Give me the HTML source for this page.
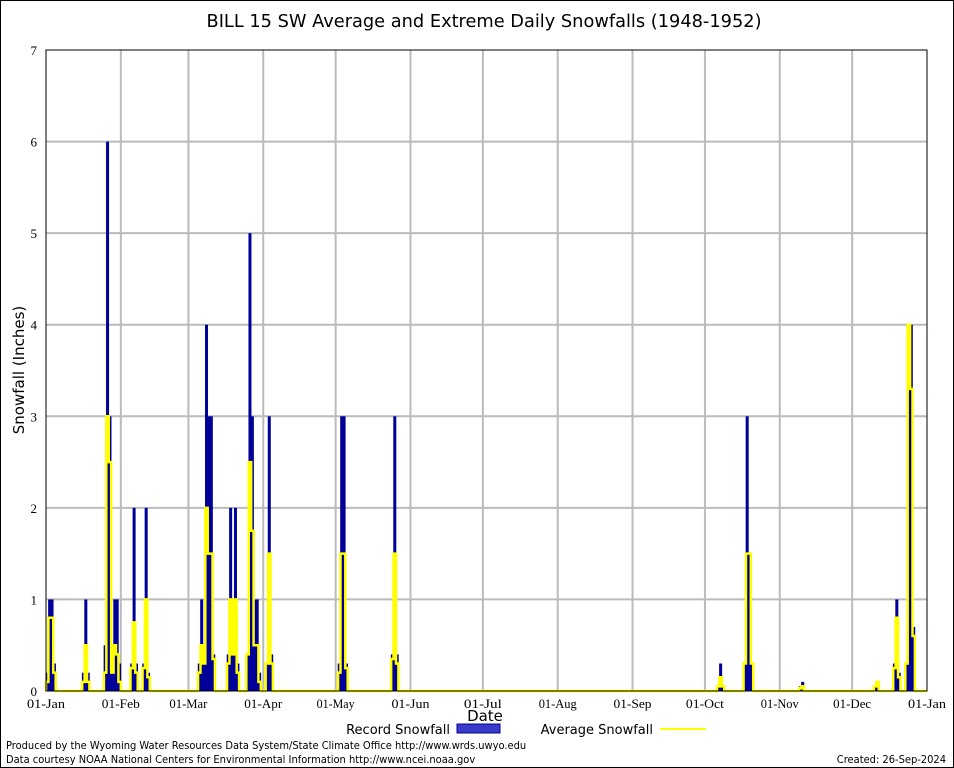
<!DOCTYPE html>
<html><head><meta charset="utf-8">
<style>
html,body{margin:0;padding:0;background:#fff;}
svg{display:block;}
</style></head>
<body>
<svg id="chart" width="954" height="768" xmlns="http://www.w3.org/2000/svg">
<rect x="0.5" y="0.5" width="953" height="767" fill="#fff" stroke="#000"/>
<text x="484" y="27" text-anchor="middle" font-family="DejaVu Sans, sans-serif" font-size="18" textLength="555" lengthAdjust="spacingAndGlyphs">BILL 15 SW Average and Extreme Daily Snowfalls (1948-1952)</text>
<g id="grid"></g>
<g id="marks"></g>
<g id="axes"></g>
<text x="24" y="370" transform="rotate(-90 24 370)" text-anchor="middle" font-family="DejaVu Sans, sans-serif" font-size="15">Snowfall (Inches)</text>
<text x="485" y="721" text-anchor="middle" font-family="DejaVu Sans, sans-serif" font-size="15">Date</text>
<g>
<text x="450" y="734" text-anchor="end" font-family="DejaVu Sans, sans-serif" font-size="13">Record Snowfall</text>
<rect x="457" y="724" width="43" height="9" fill="#3a3ac8" stroke="#000099"/>
<text x="653" y="734" text-anchor="end" font-family="DejaVu Sans, sans-serif" font-size="13">Average Snowfall</text>
<line x1="660" y1="729" x2="706" y2="729" stroke="#ffff00" stroke-width="2"/>
</g>
<text x="6" y="749" font-family="DejaVu Sans Condensed, DejaVu Sans, sans-serif" font-size="11">Produced by the Wyoming Water Resources Data System/State Climate Office http://www.wrds.uwyo.edu</text>
<text x="6" y="763" font-family="DejaVu Sans Condensed, DejaVu Sans, sans-serif" font-size="11">Data courtesy NOAA National Centers for Environmental Information http://www.ncei.noaa.gov</text>
<text x="946" y="763" text-anchor="end" font-family="DejaVu Sans Condensed, DejaVu Sans, sans-serif" font-size="11">Created: 26-Sep-2024</text>
</svg>
<script>
const monthLabels = ["01-Jan","01-Feb","01-Mar","01-Apr","01-May","01-Jun","01-Jul","01-Aug","01-Sep","01-Oct","01-Nov","01-Dec","01-Jan"];
const monthStartDays = [0,31,59,90,120,151,181,212,243,273,304,334,365];
const yTicks = [0,1,2,3,4,5,6,7];
const snowDays =   [0,  1,  2,  3,  15, 16, 17, 24, 25, 26, 27, 28, 29, 30, 35, 36, 37, 40, 41, 42, 63, 64, 65, 66, 67, 68, 69, 75, 76, 77, 78, 79, 83, 84, 85, 86, 87, 88, 91, 92, 93, 121,122,123,124,143,144,145,278, 279,280, 289,290,291,292,312, 313, 343, 344, 351,352,353,356,357,358,359];
const recordSnow = [0.2,1,  1,  0.3,0.2,1,  0.2,0.5,6,  3,  0.2,1,  1,  0.3,0.3,2,  0.3,0.3,2,  0.2,0.3,1,  0.5,4,  3,  3,  0.4,0.4,2,  0.5,2,  0.3,0.4,5,  3,  1,  1,  0.2,0.3,3,  0.4,0.3,3,  3,  0.3,0.4,3,  0.4,0.05, 0.3,0.05, 0.3,3,  1.5,0.3,0.05, 0.1, 0.05, 0.1, 0.3,1,  0.2,0.3,4,  4,  0.7];
const avgSnow =    [0.1,0.8,0.8,0.2,0.1,0.5,0.1,0.2,3.0,2.5,0.2,0.5,0.4,0.1,0.25,0.75,0.2,0.25,1.0,0.15,0.2,0.5,0.3,2.0,1.5,1.5,0.35,0.3,1.0,0.4,1.0,0.2,0.4,2.5,1.75,0.5,0.5,0.1,0.3,1.5,0.3,0.2,1.5,1.5,0.25,0.35,1.5,0.3,0.05,0.15,0.05,0.3,1.5,1.5,0.3,0.03,0.05,0.05,0.1, 0.25,0.8,0.15,0.3,4.0,3.3,0.6];

const X0=46, PX=881/365, Y0=691, PY=641/7;
const xs = d => X0 + d*PX;
const ys = v => Y0 - v*PY;
const NS='http://www.w3.org/2000/svg';
function mk(tag, attrs, parent){const e=document.createElementNS(NS,tag);for(const k in attrs)e.setAttribute(k,attrs[k]);parent.appendChild(e);return e;}
const grid=document.getElementById('grid'), marks=document.getElementById('marks'), axes=document.getElementById('axes');

yTicks.forEach(v=>{
  if(v>0&&v<7){const l=mk('line',{x1:46,x2:927,y1:ys(v),y2:ys(v),stroke:'#bbbbbb','stroke-width':2},grid);
  
  }
  const t=mk('text',{x:37,y:ys(v)+5,'text-anchor':'end','font-family':'Liberation Serif, serif','font-size':13},axes);
  t.textContent=v;
  
  
});
monthStartDays.forEach((d,i)=>{
  if(i>0&&i<12){const l=mk('line',{x1:xs(d),x2:xs(d),y1:50,y2:691,stroke:'#bbbbbb','stroke-width':2},grid);
  
  }
  const t=mk('text',{x:xs(d),y:708,'text-anchor':'middle','font-family':'Liberation Serif, serif','font-size':13,textLength:38,lengthAdjust:'spacingAndGlyphs'},axes);
  t.textContent=monthLabels[i];
  
  
});
snowDays.forEach((d,i)=>{
  const r=mk('rect',{x:xs(d)-0.3,y:ys(recordSnow[i]),width:PX+0.6,height:Y0-ys(recordSnow[i]),fill:'#000099'},marks);
  
  
});
const avgByDay=new Array(366).fill(0);
snowDays.forEach((d,i)=>{avgByDay[d]=avgSnow[i];});
let p='M'+xs(0)+' '+ys(0);
for(let d=0;d<365;d++){p+=' L'+xs(d)+' '+ys(avgByDay[d])+' L'+xs(d+1)+' '+ys(avgByDay[d]);}
const pl=mk('path',{d:p,fill:'none',stroke:'#ffff00','stroke-width':2.5},marks);


const fr=mk('rect',{x:46,y:50,width:881,height:641,fill:'none',stroke:'#000','stroke-width':1},axes);


</script>
</body></html>
